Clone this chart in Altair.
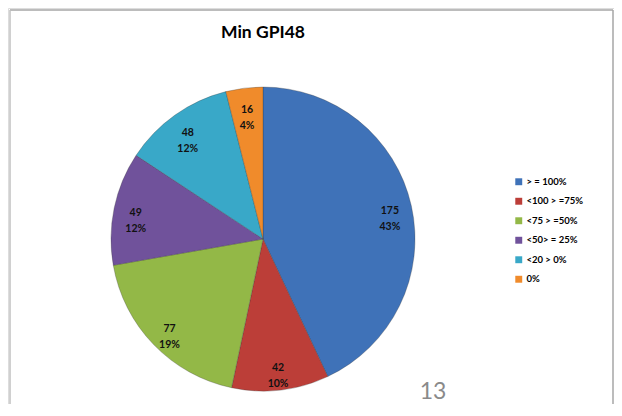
import altair as alt
import pandas as pd

categories = ["> = 100%", "<100 > =75%", "<75 > =50%", "<50> = 25%", "<20 > 0%", "0%"]
values = [175, 42, 77, 49, 48, 16]
colors = ["#3F72B8", "#BC3E38", "#93B847", "#70529B", "#39A8C8", "#F08B2B"]
title_text = "Min GPI48"
page_number = "13"

total = sum(values)
df = pd.DataFrame({
    "idx": list(range(len(categories))),
    "category": categories,
    "value": values,
})
df["label"] = [f"{v}\n{round(v / total * 100)}%" for v in values]

cx, cy = 255, 231

base = alt.Chart(df).encode(
    theta=alt.Theta("value:Q", stack=True),
    order=alt.Order("idx:Q", sort="ascending"),
    x=alt.value(cx),
    y=alt.value(cy),
)

arcs = base.mark_arc(radius=152, stroke="#3a3a3a", strokeWidth=0.6, strokeOpacity=0.5).encode(
    color=alt.Color(
        "category:N",
        scale=alt.Scale(domain=categories, range=colors),
        sort=categories,
        legend=alt.Legend(
            title=None,
            orient="none",
            legendX=506,
            legendY=169,
            symbolType="square",
            symbolSize=48,
            symbolStrokeWidth=0,
            labelFont="Lato",
            labelFontWeight="bold",
            labelFontSize=9.5,
            labelColor="#000000",
            rowPadding=8.5,
            labelOffset=3,
        ),
    )
)

labels = base.mark_text(
    radius=130,
    font="Lato",
    fontWeight="bold",
    fontSize=10.5,
    lineBreak="\n",
    lineHeight=16,
    color="#111111",
    baseline="middle",
).encode(text="label:N")

tdf = pd.DataFrame({"t": [title_text]})
title = alt.Chart(tdf).mark_text(
    font="Lato", fontWeight="bold", fontSize=17.5, color="#000000", baseline="middle"
).encode(text="t:N", x=alt.value(255), y=alt.value(25))

pdf = pd.DataFrame({"p": [page_number]})
pnum = alt.Chart(pdf).mark_text(
    font="Lato", fontSize=23, color="#8a8a8a", baseline="middle"
).encode(text="p:N", x=alt.value(425), y=alt.value(384))

border_top = alt.Chart(tdf).mark_rule(color="#a6a6a6", strokeWidth=1.5).encode(
    x=alt.value(2), x2=alt.value(605), y=alt.value(2)
)
border_left = alt.Chart(tdf).mark_rule(color="#c0c0c0", strokeWidth=1.5).encode(
    x=alt.value(2), y=alt.value(2), y2=alt.value(400)
)
border_right = alt.Chart(tdf).mark_rule(color="#a6a6a6", strokeWidth=1.5).encode(
    x=alt.value(605), y=alt.value(2), y2=alt.value(400)
)

chart = alt.layer(border_top, border_left, border_right, arcs, labels, title, pnum).properties(
    width=606,
    height=396,
    autosize=alt.AutoSizeParams(type="none"),
    padding=0,
).configure_view(stroke=None).configure(background="#ffffff")

chart.save("out.html", embed_options={"renderer": "svg", "actions": False})
